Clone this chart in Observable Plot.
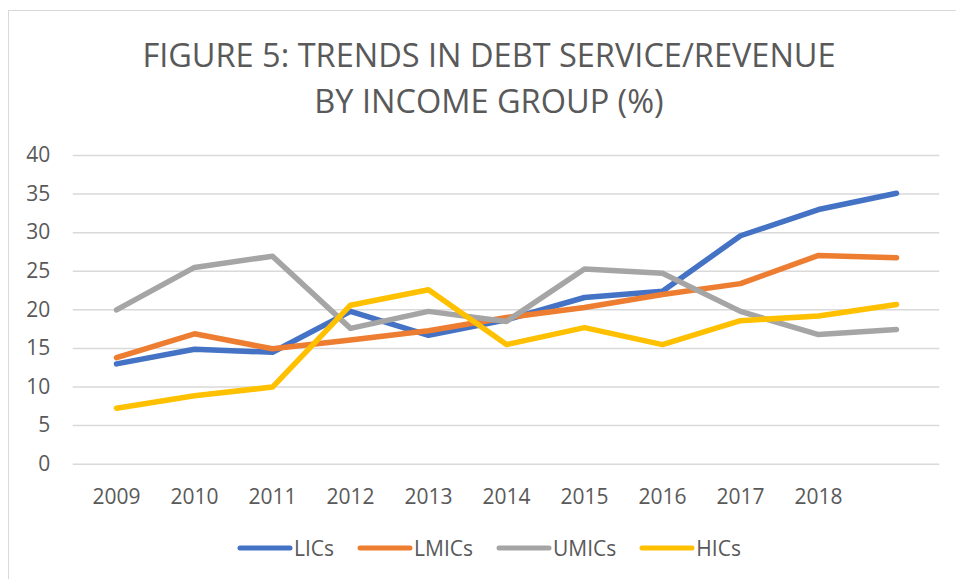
<!DOCTYPE html>
<html>
<head>
<meta charset="utf-8">
<script src="https://cdn.jsdelivr.net/npm/d3@7"></script>
<script src="https://cdn.jsdelivr.net/npm/@observablehq/plot@0.6"></script>
<style>
  html, body { margin: 0; padding: 0; width: 956px; height: 579px; overflow: hidden; background: #fff; font-family: "Open Sans", sans-serif; color: #595959; }
  #frame { position: absolute; left: 8px; top: 10px; width: 1000px; height: 1000px; border: 1.5px solid #D9D9D9; box-sizing: border-box; }
  #title { position: absolute; left: 9px; width: 960px; top: 32px; text-align: center; font-size: 32.5px; line-height: 45.6px; color: #595959; }
  #chart { position: absolute; left: 0; top: 140px; }
  #legend { position: absolute; left: 9px; width: 960px; top: 533px; height: 30px; display: flex; justify-content: center; align-items: center; gap: 23px; font-size: 21px; color: #595959; }
  .item { display: flex; align-items: center; }
  .item svg { margin-right: 1px; }
</style>
</head>
<body>
<div id="frame"></div>
<div id="title">FIGURE 5: TRENDS IN DEBT SERVICE/REVENUE<br>BY INCOME GROUP (%)</div>
<div id="chart"></div>
<div id="legend"></div>
<script>
const years = ["2009","2010","2011","2012","2013","2014","2015","2016","2017","2018","2019"];
const tickLabels = ["2009","2010","2011","2012","2013","2014","2015","2016","2017","2018",""];
const seriesNames = ["LICs","LMICs","UMICs","HICs"];
const seriesColors = ["#4472C4","#ED7D31","#A5A5A5","#FFC000"];
const lics  = [13.0, 14.9, 14.5, 19.8, 16.7, 18.7, 21.6, 22.4, 29.6, 33.0, 35.1];
const lmics = [13.8, 16.9, 14.95, 16.1, 17.3, 19.0, 20.3, 22.0, 23.4, 27.05, 26.75];
const umics = [20.0, 25.5, 26.95, 17.6, 19.8, 18.5, 25.3, 24.75, 19.8, 16.8, 17.45];
const hics  = [7.26, 8.86, 10.0, 20.6, 22.6, 15.5, 17.7, 15.5, 18.6, 19.2, 20.7];
const yTicks = [0, 5, 10, 15, 20, 25, 30, 35, 40];

const seriesValues = [lics, lmics, umics, hics];
const data = [];
seriesNames.forEach((name, i) => {
  years.forEach((yr, j) => data.push({series: name, year: yr, value: seriesValues[i][j]}));
});

const plot = Plot.plot({
  width: 956,
  height: 380,
  marginTop: 15,
  marginBottom: 56.3,
  marginLeft: 72.7,
  marginRight: 16.7,
  style: { fontFamily: "Open Sans, sans-serif", fontSize: "21px", color: "#595959", background: "transparent", overflow: "visible" },
  x: { type: "point", domain: years, padding: 0.5, label: null },
  y: { domain: [0, 40], label: null },
  color: { domain: seriesNames, range: seriesColors },
  marks: [
    Plot.ruleY(yTicks, { stroke: "#D9D9D9", strokeWidth: 1.5 }),
    Plot.axisX({ tickSize: 0, tickPadding: 24.5, tickFormat: (d) => tickLabels[years.indexOf(d)], fill: "#595959", fontSize: 21 }),
    Plot.axisY({ ticks: yTicks, tickSize: 0, tickPadding: 23, fill: "#595959", fontSize: 21 }),
    Plot.line(data, { x: "year", y: "value", z: "series", stroke: "series", strokeWidth: 5.5, strokeLinecap: "round", strokeLinejoin: "round" })
  ]
});
document.getElementById("chart").appendChild(plot);

const legend = document.getElementById("legend");
seriesNames.forEach((name, i) => {
  const item = document.createElement("div");
  item.className = "item";
  item.innerHTML = `<svg width="56" height="8"><line x1="3" y1="4" x2="53" y2="4" stroke="${seriesColors[i]}" stroke-width="5" stroke-linecap="round"/></svg><span>${name}</span>`;
  legend.appendChild(item);
});
</script>
</body>
</html>
